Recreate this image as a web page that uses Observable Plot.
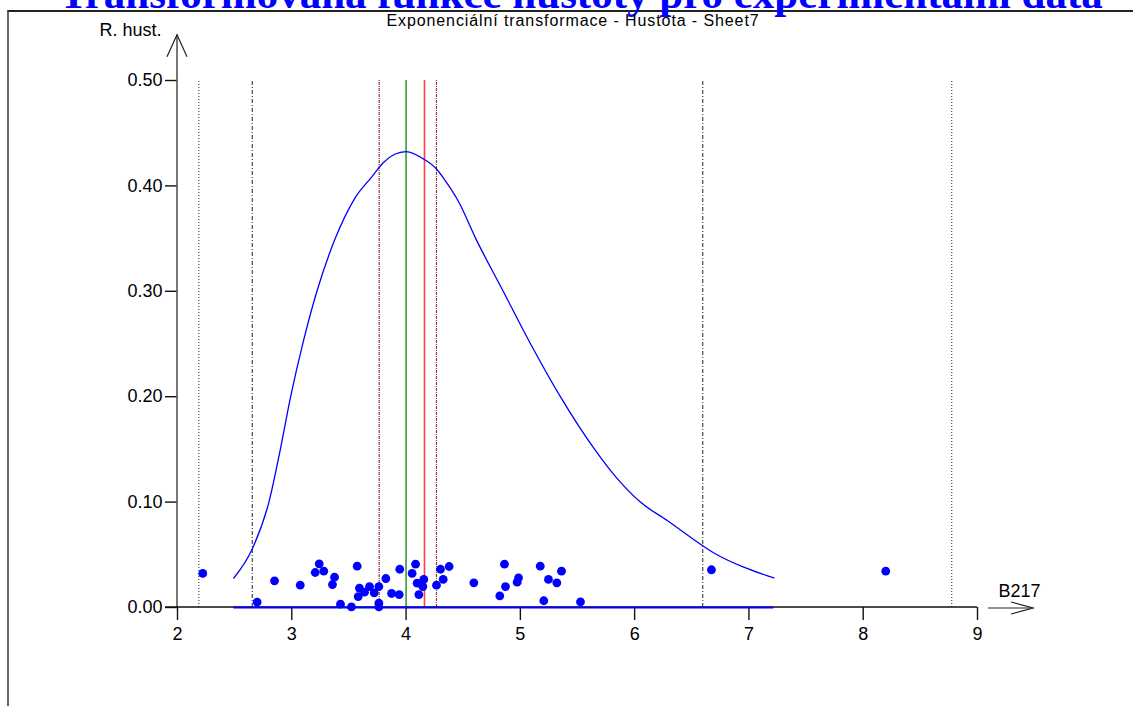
<!DOCTYPE html>
<html>
<head>
<meta charset="utf-8">
<script src="https://cdn.jsdelivr.net/npm/d3@7"></script>
<script src="https://cdn.jsdelivr.net/npm/@observablehq/plot@0.6"></script>
<style>
  html, body { margin: 0; padding: 0; background: #fff; }
  #wrap { position: relative; width: 1133px; height: 706px; overflow: hidden; background: #fff;
          font-family: Arial, "Liberation Sans", sans-serif; }
  #frame { position: absolute; left: 7px; top: 10px; width: 1300px; height: 900px;
           border-left: 2px solid #666; border-top: 2px solid #222; box-sizing: border-box; }
  #title { position: absolute; left: 0; width: 1162px; top: -21.5px; text-align: center;
           font: bold 43px "Liberation Serif", "Times New Roman", serif; line-height: 30px;
           color: #0000ff; white-space: nowrap; }
  #subtitle { position: absolute; left: 0; width: 1146px; top: 12px; text-align: center;
              font: 16px Arial, "Liberation Sans", sans-serif; letter-spacing: 0.9px; line-height: 17px; color: #000; white-space: nowrap; }
  #chart { position: absolute; left: 0; top: 0; }
</style>
</head>
<body>
<div id="wrap">
  <div id="frame"></div>
  <div id="title">Transformovaná funkce hustoty pro experimentální data</div>
  <div id="subtitle">Exponenciální transformace - Hustota - Sheet7</div>
  <div id="chart"></div>
</div>
<script>
// ---- data ----
const xTicks = [2, 3, 4, 5, 6, 7, 8, 9];
const yTicks = [0, 0.1, 0.2, 0.3, 0.4, 0.5];
const xLabel = "B217";
const yLabel = "R. hust.";
const yArrowTop = 0.543;
const xArrowStart = 9.096;
const xArrowEnd = 9.49;

// density curve
const curveX = [2.493, 2.656, 2.80, 2.90, 2.99, 3.10, 3.22, 3.38, 3.55, 3.704, 3.80, 3.90, 4.00, 4.161, 4.266, 4.33, 4.46, 4.61, 4.85, 5.09, 5.35, 5.65, 5.85, 6.05, 6.285, 6.69, 7.218];
const curveY = [0.028, 0.056, 0.10, 0.15, 0.20, 0.252, 0.30, 0.35, 0.388, 0.409, 0.422, 0.430, 0.4326, 0.425, 0.416, 0.407, 0.385, 0.35, 0.30, 0.25, 0.20, 0.15, 0.122, 0.100, 0.0825, 0.052, 0.028];

// experimental points (value, jittered density position)
const pointX = [2.221, 2.697, 2.849, 3.074, 3.240, 3.205, 3.280, 3.374, 3.356, 3.426, 3.522, 3.572, 3.592, 3.581, 3.636, 3.680, 3.721, 3.762, 3.762, 3.762, 3.823, 3.873, 3.940, 3.945, 4.053, 4.083, 4.097, 4.155, 4.147, 4.112, 4.266, 4.301, 4.325, 4.377, 4.593, 4.861, 4.870, 4.820, 4.984, 4.972, 5.174, 5.246, 5.319, 5.360, 5.205, 5.526, 6.672, 8.197];
const pointY = [0.0323, 0.0051, 0.0253, 0.0212, 0.0414, 0.0332, 0.0345, 0.0288, 0.0218, 0.0032, 0.0005, 0.0392, 0.0183, 0.0104, 0.0145, 0.0199, 0.0139, 0.0199, 0.0041, 0.0005, 0.0275, 0.0133, 0.0123, 0.0363, 0.0323, 0.0411, 0.0231, 0.0266, 0.0199, 0.0123, 0.0212, 0.0363, 0.0266, 0.0389, 0.0234, 0.0411, 0.0199, 0.0111, 0.0282, 0.0240, 0.0392, 0.0266, 0.0234, 0.0345, 0.0064, 0.0054, 0.0358, 0.0345];

// vertical reference lines
const dottedLines = [2.187, 8.775];
const dashDotLines = [2.654, 6.596];
const redDashDotLines = [3.765, 4.266];
const greenLines = [4.00];
const redLines = [4.161];
const curveRange = [2.493, 7.218];

// ---- build ----
const curve = curveX.map((x, i) => ({x, y: curveY[i]}));
const points = pointX.map((x, i) => ({x, y: pointY[i]}));
const yMax = yTicks[yTicks.length - 1];

function axes(index, {x, y}) {
  const g = d3.create("svg:g").attr("fill", "none");
  const x0 = x(xTicks[0]), y0 = y(0), yTop = y(yArrowTop);
  const xEnd = x(xTicks[xTicks.length - 1]);
  g.append("line").attr("x1", x0).attr("x2", x0).attr("y1", y0).attr("y2", yTop)
    .attr("stroke", "#555").attr("stroke-width", 1.6);
  g.append("path").attr("d", `M${x0 - 10},${yTop + 22}L${x0},${yTop}L${x0 + 10},${yTop + 22}`)
    .attr("stroke", "#222").attr("stroke-width", 1.2);
  g.append("line").attr("x1", x0 - 12).attr("x2", xEnd).attr("y1", y0).attr("y2", y0)
    .attr("stroke", "#111").attr("stroke-width", 1.6);
  const xa = x(xArrowStart), xb = x(xArrowEnd);
  g.append("line").attr("x1", xa).attr("x2", xb).attr("y1", y0 + 1).attr("y2", y0 + 1)
    .attr("stroke", "#222").attr("stroke-width", 1.2);
  g.append("path").attr("d", `M${xb - 22},${y0 - 5}L${xb},${y0 + 1}L${xb - 22},${y0 + 7}`)
    .attr("stroke", "#222").attr("stroke-width", 1.2);
  return g.node();
}

const chart = Plot.plot({
  width: 1133,
  height: 706,
  marginLeft: 177,
  marginRight: 156,
  marginTop: 80,
  marginBottom: 99,
  x: {domain: [xTicks[0], xTicks[xTicks.length - 1]]},
  y: {domain: [0, yMax]},
  style: {background: "transparent", fontFamily: "Arial, 'Liberation Sans', sans-serif", fontSize: "18px", color: "#000", overflow: "visible"},
  marks: [
    Plot.ruleX(dottedLines, {y1: 0, y2: yMax, stroke: "#222", strokeWidth: 1, strokeDasharray: "1,2"}),
    Plot.ruleX(dashDotLines, {y1: 0, y2: yMax, stroke: "#222", strokeWidth: 1, strokeDasharray: "4,2,1,2"}),
    Plot.ruleX(redDashDotLines, {y1: 0, y2: yMax, stroke: "#993838", strokeWidth: 1.2, strokeDasharray: "3,1,1,1"}),
    Plot.ruleX(greenLines, {y1: 0, y2: yMax, stroke: "#3a9a3a", strokeWidth: 1.6}),
    Plot.ruleX(redLines, {y1: 0, y2: yMax, stroke: "#ff4040", strokeWidth: 1.6}),
    Plot.axisX({ticks: xTicks, tickSize: 13, tickPadding: 7, tickFormat: d => String(d), label: null, stroke: "#111", strokeWidth: 1.4}),
    Plot.axisY({ticks: yTicks, tickSize: 12, tickPadding: 3, tickFormat: d3.format(".2f"), label: null, stroke: "#111", strokeWidth: 1.4}),
    axes,
    Plot.ruleY([0], {x1: curveRange[0], x2: curveRange[1], stroke: "#0000ff", strokeWidth: 2}),
    Plot.line(curve, {x: "x", y: "y", stroke: "#0000ff", strokeWidth: 1.3, curve: "monotone-x"}),
    Plot.dot(points, {x: "x", y: "y", r: 4.4, fill: "#0000ff", stroke: "none"}),
    Plot.text([yLabel], {x: xTicks[0], y: yArrowTop, text: d => d, textAnchor: "end", dx: -16, dy: 1, lineAnchor: "bottom", fill: "#000"}),
    Plot.text([xLabel], {x: xArrowStart, y: 0, text: d => d, textAnchor: "start", dx: 10, dy: -11, lineAnchor: "bottom", fill: "#000"})
  ]
});
document.getElementById("chart").appendChild(chart);
</script>
</body>
</html>
